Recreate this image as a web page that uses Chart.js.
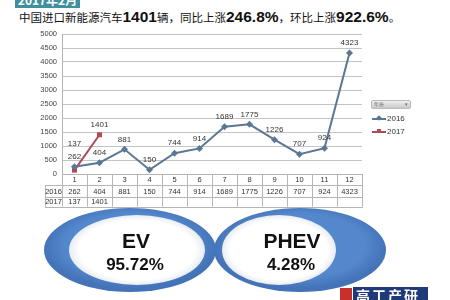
<!DOCTYPE html>
<html><head><meta charset="utf-8">
<script src="https://cdn.jsdelivr.net/npm/chart.js@4/dist/chart.umd.min.js"></script>
<style>
html,body{margin:0;padding:0;background:#fff;}
#wrap{position:relative;width:450px;height:300px;overflow:hidden;background:#fff;font-family:"Noto Sans CJK SC","Noto Sans",sans-serif;}
#c{position:absolute;left:0;top:0;}
#badge{position:absolute;left:15px;top:-8px;width:65px;height:16px;background:#3f8f9c;color:#fff;font-weight:bold;font-size:12px;line-height:15px;text-align:center;}
#title{position:absolute;left:19px;top:8px;font-size:11.5px;color:#111;white-space:nowrap;line-height:18px;}
#title b{font-size:15.5px;font-family:"Liberation Sans",Arial,sans-serif;font-weight:bold;}
#legend{position:absolute;left:371px;top:100px;width:40px;font-family:"Liberation Sans",Arial,sans-serif;font-size:8px;color:#333;}
#btn{width:36px;height:7px;background:linear-gradient(#eee,#c8c8c8);border:1px solid #bbb;border-radius:2px;font-size:5px;line-height:7px;color:#666;padding-left:2px;box-sizing:content-box;}
.li{position:relative;height:13px;line-height:13px;}
.li span.ln{position:absolute;left:1px;top:6px;width:14px;height:2px;}
.li span.mk{position:absolute;left:6px;top:4px;width:4px;height:4px;}
.li span.t{position:absolute;left:16px;top:0;}
#ov{position:absolute;left:0;top:0;}
#logo{position:absolute;left:340px;top:287px;height:14px;}
#logo .r{position:absolute;left:0;top:1px;width:12px;height:13px;background:#c8302a;}
#logo .b{position:absolute;left:13px;top:0;width:72px;height:14px;background:#1f3a78;color:#fff;font-weight:bold;font-size:14px;line-height:16px;padding-left:3px;letter-spacing:2px;}
</style></head>
<body><div id="wrap">
<div id="badge">2017年2月</div>
<div id="title">中国进口新能源汽车<b>1401</b>辆，同比上涨<b>246.8%</b>，环比上涨<b>922.6%</b>。</div>
<canvas id="c" width="450" height="300"></canvas>
<div id="legend">
 <div id="btn">年份 <span style="float:right;margin-right:2px;">▾</span></div>
 <div class="li" style="margin-top:3px"><span class="ln" style="background:#5b7893"></span><span class="mk" style="background:#5b7893;transform:rotate(45deg)"></span><span class="t">2016</span></div>
 <div class="li"><span class="ln" style="background:#b04a55"></span><span class="mk" style="background:#b04a55"></span><span class="t">2017</span></div>
</div>
<svg id="ov" width="450" height="300" viewBox="0 0 450 300">
 <defs>
  <radialGradient id="g1" cx="50%" cy="45%" r="50%"><stop offset="75%" stop-color="#5488cc"/><stop offset="100%" stop-color="#4473b8"/></radialGradient>
  <radialGradient id="w1" cx="50%" cy="50%" r="50%"><stop offset="85%" stop-color="#ffffff"/><stop offset="100%" stop-color="#e8ecf3"/></radialGradient>
 </defs>
 <ellipse cx="130" cy="250" rx="86" ry="42" fill="url(#g1)"/>
 <ellipse cx="300" cy="250" rx="86" ry="42" fill="url(#g1)"/>
 <ellipse cx="137" cy="250" rx="68" ry="35" fill="url(#w1)"/>
 <ellipse cx="279" cy="250" rx="57" ry="35" fill="url(#w1)"/>
 <g font-family="'Liberation Sans',Arial,sans-serif" font-weight="bold" fill="#111" text-anchor="middle">
  <text x="136" y="248" font-size="21">EV</text>
  <text x="135" y="270" font-size="17">95.72%</text>
  <text x="292" y="248" font-size="21">PHEV</text>
  <text x="291" y="270" font-size="17">4.28%</text>
 </g>
</svg>
<div id="logo"><div class="r"></div><div class="b">高工产研</div></div>
</div>
<script>
const months = ['1','2','3','4','5','6','7','8','9','10','11','12'];
const seriesNames = ['2016','2017'];
const values2016 = [262,404,881,150,744,914,1689,1775,1226,707,924,4323];
const values2017 = [137,1401];
const yTicks = [0,500,1000,1500,2000,2500,3000,3500,4000,4500,5000];

const tablePlugin = {
  id:'tbl',
  afterDatasetsDraw(chart){
    const ctx = chart.ctx, xs = chart.scales.x, ca = chart.chartArea;
    const step = (ca.right-ca.left)/months.length;
    const y0 = ca.bottom, y1 = y0+11, y2 = y1+12, y3 = y2+9.5;
    const left = 45;
    ctx.save();
    ctx.strokeStyle = '#b5b5b5'; ctx.lineWidth = 1;
    ctx.beginPath();
    for(let i=0;i<=months.length;i++){
      const x = Math.round(ca.left+i*step)+0.5;
      ctx.moveTo(x,y0); ctx.lineTo(x,y3);
    }
    ctx.moveTo(left+0.5,y1); ctx.lineTo(left+0.5,y3);
    [y1,y2,y3].forEach(y=>{ctx.moveTo(left,Math.round(y)+0.5);ctx.lineTo(ca.right+1,Math.round(y)+0.5);});
    ctx.stroke();
    ctx.fillStyle='#333'; ctx.font='7.5px "Liberation Sans", Arial, sans-serif';
    ctx.textAlign='center'; ctx.textBaseline='middle';
    months.forEach((m,i)=>{
      const x = xs.getPixelForValue(i);
      ctx.fillText(m,x,(y0+y1)/2+0.5);
      ctx.fillText(String(values2016[i]),x,(y1+y2)/2+0.5);
      if(values2017[i]!==undefined) ctx.fillText(String(values2017[i]),x,(y2+y3)/2+0.5);
    });
    ctx.fillText(seriesNames[0],(left+ca.left)/2,(y1+y2)/2+0.5);
    ctx.fillText(seriesNames[1],(left+ca.left)/2,(y2+y3)/2+0.5);
    ctx.font='8px "Liberation Sans", Arial, sans-serif';
    chart.data.datasets.forEach((ds,di)=>{
      const meta = chart.getDatasetMeta(di);
      meta.data.forEach((pt,i)=>{
        let dy = -10;
        if(di===1 && i===0) dy = -26;
        ctx.fillText(String(ds.data[i]), pt.x, pt.y+dy);
      });
    });
    ctx.restore();
  }
};

new Chart(document.getElementById('c'),{
  type:'line',
  data:{labels:months,datasets:[
    {label:seriesNames[0],data:values2016,borderColor:'#5b7893',backgroundColor:'#5b7893',borderWidth:2,pointStyle:'rectRot',pointRadius:3.5,pointBorderWidth:0,tension:0},
    {label:seriesNames[1],data:values2017,borderColor:'#b04a55',backgroundColor:'#b04a55',borderWidth:2,pointStyle:'rect',pointRadius:3.5,pointBorderWidth:0,tension:0}
  ]},
  options:{
    responsive:false,animation:false,
    layout:{padding:{left:0,right:88,top:34,bottom:0}},
    plugins:{legend:{display:false},tooltip:{enabled:false},title:{display:false}},
    scales:{
      x:{offset:true,grid:{display:false},border:{display:true,color:'#b5b5b5'},ticks:{display:false},
         afterFit(a){a.height=126;}},
      y:{min:0,max:5000,afterBuildTicks(a){a.ticks=yTicks.map(v=>({value:v}));},
         grid:{color:'#c4c4c4',drawTicks:false},border:{display:true,color:'#b5b5b5'},
         ticks:{padding:5,color:'#444',font:{size:7.5,family:'"Liberation Sans", Arial, sans-serif'},callback:v=>String(v)},
         afterFit(a){a.width=62;}}
    }
  },
  plugins:[tablePlugin]
});
</script>
</body></html>
